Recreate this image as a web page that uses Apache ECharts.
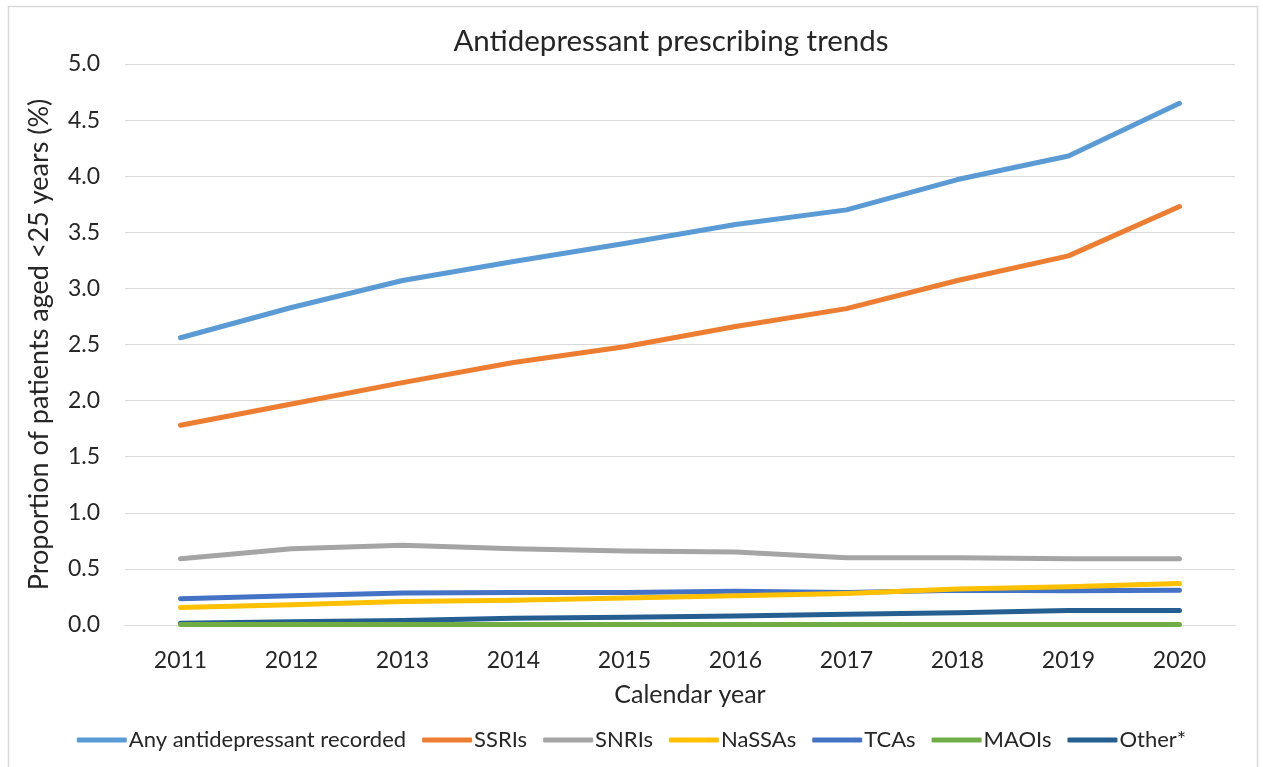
<!DOCTYPE html>
<html>
<head>
<meta charset="utf-8">
<script src="https://cdn.jsdelivr.net/npm/echarts@6/dist/echarts.min.js"></script>
<style>
  html, body { margin: 0; padding: 0; background: #fff; }
  #chart { width: 1263px; height: 767px; }
</style>
</head>
<body>
<div id="chart"></div>
<script>
// Calendar years on the x axis
const years = ['2011', '2012', '2013', '2014', '2015', '2016', '2017', '2018', '2019', '2020'];

// Proportion of patients aged <25 years (%) by drug class
const anyAntidepressant = [2.56, 2.83, 3.07, 3.24, 3.40, 3.57, 3.70, 3.97, 4.18, 4.65];
const ssris   = [1.78, 1.97, 2.16, 2.34, 2.48, 2.66, 2.82, 3.07, 3.29, 3.73];
const snris   = [0.59, 0.68, 0.71, 0.68, 0.66, 0.65, 0.60, 0.60, 0.59, 0.59];
const nassas  = [0.155, 0.18, 0.21, 0.22, 0.24, 0.26, 0.28, 0.32, 0.34, 0.37];
const tcas    = [0.235, 0.26, 0.285, 0.29, 0.29, 0.30, 0.29, 0.31, 0.305, 0.31];
const maois   = [0.005, 0.005, 0.005, 0.005, 0.005, 0.005, 0.005, 0.005, 0.005, 0.005];
const other   = [0.015, 0.03, 0.04, 0.06, 0.07, 0.08, 0.095, 0.11, 0.13, 0.13];

const seriesDefs = [
  { name: 'Any antidepressant recorded', data: anyAntidepressant, color: '#5B9BD5' },
  { name: 'SSRIs',  data: ssris,  color: '#ED7D31' },
  { name: 'SNRIs',  data: snris,  color: '#A5A5A5' },
  { name: 'NaSSAs', data: nassas, color: '#FFC000' },
  { name: 'TCAs',   data: tcas,   color: '#4472C4' },
  { name: 'MAOIs',  data: maois,  color: '#70AD47' },
  { name: 'Other*', data: other,  color: '#255E91' }
];

const font = 'Lato, "Open Sans", sans-serif';
const textColor = '#262626';
const chart = echarts.init(document.getElementById('chart'));

chart.setOption({
  animation: false,
  backgroundColor: '#fff',
  graphic: [{
    type: 'rect',
    shape: { x: 8.5, y: 6.5, width: 1249, height: 780 },
    style: { fill: 'none', stroke: '#D9D9D9', lineWidth: 1.5 },
    silent: true,
    z: -1
  }],
  title: {
    text: 'Antidepressant prescribing trends',
    left: 666,
    textAlign: 'center',
    top: 21,
    textStyle: { fontFamily: font, fontSize: 29.5, fontWeight: 'normal', color: textColor }
  },
  grid: { left: 125, right: 28, top: 64, bottom: 142, containLabel: false },
  legend: {
    bottom: 11,
    left: 'center',
    icon: 'roundRect',
    itemWidth: 50,
    itemHeight: 5,
    itemGap: 16,
    textStyle: { fontFamily: font, fontSize: 22, color: textColor, padding: [0, 0, 0, -3] },
    data: seriesDefs.map(s => s.name)
  },
  xAxis: {
    type: 'category',
    data: years,
    boundaryGap: true,
    name: 'Calendar year',
    nameLocation: 'middle',
    nameGap: 57,
    nameTextStyle: { fontFamily: font, fontSize: 25, color: textColor, padding: [0, 0, 0, 20] },
    axisLine: { show: true, lineStyle: { color: '#D9D9D9', width: 1 } },
    axisTick: { show: false },
    axisLabel: { fontFamily: font, fontSize: 23, color: textColor, margin: 24 }
  },
  yAxis: {
    type: 'value',
    min: 0,
    max: 5,
    interval: 0.5,
    name: 'Proportion of patients aged <25 years (%)',
    nameLocation: 'middle',
    nameGap: 72,
    nameTextStyle: { fontFamily: font, fontSize: 27, color: textColor },
    axisLine: { show: false },
    axisTick: { show: false },
    axisLabel: {
      fontFamily: font, fontSize: 23, color: textColor, margin: 25,
      formatter: v => v.toFixed(1)
    },
    splitLine: { lineStyle: { color: '#D9D9D9', width: 1.2 } }
  },
  series: seriesDefs.map(s => ({
    name: s.name,
    type: 'line',
    data: s.data,
    showSymbol: false,
    symbol: 'none',
    color: s.color,
    lineStyle: { width: 5, color: s.color, cap: 'round', join: 'round' }
  })).reverse()
});
</script>
</body>
</html>
